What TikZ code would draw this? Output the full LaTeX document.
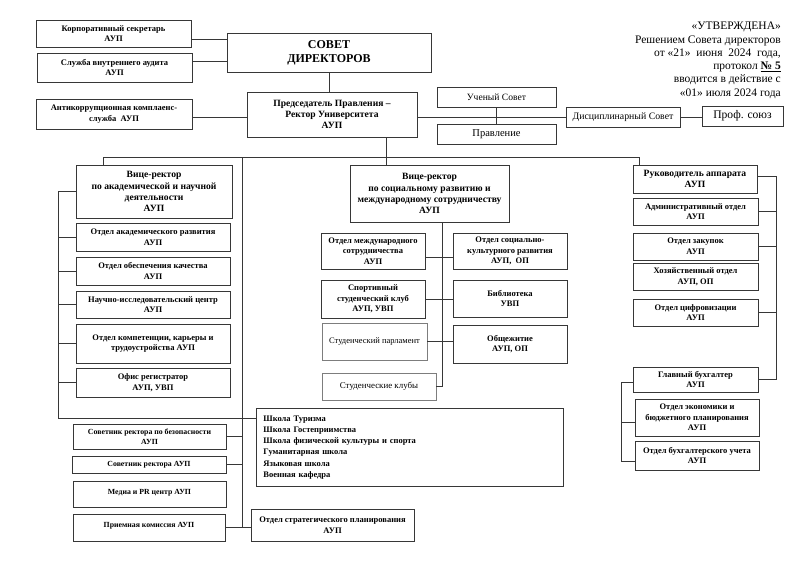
\documentclass[tikz,border=0pt]{standalone}
\usepackage{fontspec}
\setmainfont{Liberation Serif}
\usetikzlibrary{calc}
\definecolor{inkgray}{RGB}{55,55,55}
\definecolor{softgray}{RGB}{125,125,125}

\tikzset{
  box/.style={draw=inkgray, line width=0.9pt, fill=white, align=center, inner sep=0pt,
    font=\fontsize{8.5}{10.6}\selectfont\bfseries},
  headbox/.style={box, font=\fontsize{9.6}{11.2}\selectfont\bfseries},
  smallbox/.style={box, font=\fontsize{7.8}{9.6}\selectfont\bfseries},
  plainbox/.style={box, font=\fontsize{9.5}{11}\selectfont},
  paler/.style={draw=softgray, font=\fontsize{8.5}{10}\selectfont},
  wh/.style 2 args={minimum width=#1pt, minimum height=#2pt},
  link/.style={draw=inkgray, line width=0.8pt},
}

\begin{document}
\begin{tikzpicture}[x=1pt, y=-1pt]
    \useasboundingbox (0,0) rectangle (800,565);

    % top level
    \node[box, wh={155}{27}] (korp) at (113.5,33.5) {Корпоративный секретарь\\АУП};
    \node[box, wh={155}{29}] (sluzh) at (114.5,67.5) {Служба внутреннего аудита\\АУП};
    \node[box, wh={204}{39}, font=\fontsize{12}{14}\selectfont\bfseries] (sovet) at (329,52.5) {СОВЕТ\\ДИРЕКТОРОВ};
    \node[box, wh={156}{30}] (antikor) at (114,114) {Антикоррупционная комплаенс-\\служба\ \ АУП};
    \node[headbox, wh={170}{45}, font=\fontsize{9.6}{10.7}\selectfont\bfseries] (rector) at (332,114.5) {Председатель Правления –\\Ректор Университета\\АУП};
    \node[plainbox, wh={119}{20}, font=\fontsize{9.6}{10}\selectfont] (uchen) at (496.5,97) {Ученый Совет};
    \node[plainbox, wh={119}{20}, font=\fontsize{10.5}{11}\selectfont] (pravl) at (496.5,134) {Правление};
    \node[plainbox, wh={114}{20}, font=\fontsize{9.8}{10}\selectfont] (disc) at (623,117) {Дисциплинарный Совет};
    \node[plainbox, wh={81}{20}, font=\fontsize{11.6}{12}\selectfont] (prof) at (742.5,116) {Проф. союз};

    \node[anchor=north east, align=right, inner sep=0pt, font=\fontsize{11.5}{13.3}\selectfont] (utv) at (781,22)
        {«УТВЕРЖДЕНА»\\Решением Совета директоров\\от «21»\ \ июня\ \ 2024\ \ года,\\протокол \underline{\textbf{№ 5}}\\вводится в действие с\\«01» июля 2024 года};

    % academic branch
    \node[headbox, wh={156}{53}] (vpacad) at (154,191.5) {Вице-ректор\\по академической и научной\\деятельности\\АУП};
    \node[box, wh={154}{28}] (acad1) at (153,237) {Отдел академического развития\\АУП};
    \node[box, wh={154}{28}] (acad2) at (153,271) {Отдел обеспечения качества\\АУП};
    \node[box, wh={154}{27}] (acad3) at (153,304.5) {Научно-исследовательский центр\\АУП};
    \node[box, wh={154}{39}] (acad4) at (153,343.5) {Отдел компетенции, карьеры и\\трудоустройства АУП};
    \node[box, wh={154}{29}] (acad5) at (153,382.5) {Офис регистратор\\АУП, УВП};

    % social branch
    \node[headbox, wh={159}{57}] (vpsoc) at (429.5,193.5) {Вице-ректор\\по социальному развитию и\\международному сотрудничеству\\АУП};
    \node[box, wh={104}{36}] (mezh) at (373,251) {Отдел международного\\сотрудничества\\АУП};
    \node[box, wh={114}{36}] (soccult) at (510,251) {Отдел социально-\\культурного развития\\АУП,\ \ ОП};
    \node[box, wh={104}{38}] (sport) at (373,299) {Спортивный\\студенческий клуб\\АУП, УВП};
    \node[box, wh={114}{37}] (bibl) at (510,298.5) {Библиотека\\УВП};
    \node[plainbox, paler, wh={105}{37}] (parl) at (374.5,341.5) {Студенческий парламент};
    \node[box, wh={114}{38}] (obsh) at (510,344) {Общежитие\\АУП, ОП};
    \node[plainbox, paler, wh={114}{27}, font=\fontsize{8.9}{10}\selectfont] (kluby) at (379,386.5) {Студенческие клубы};

    % apparatus branch
    \node[headbox, wh={124}{28}] (rukov) at (695,179) {Руководитель аппарата\\АУП};
    \node[box, wh={125}{27}] (adm) at (695.5,211.5) {Административный отдел\\АУП};
    \node[box, wh={125}{27}] (zak) at (695.5,246.5) {Отдел закупок\\АУП};
    \node[box, wh={125}{27}] (hoz) at (695.5,276.5) {Хозяйственный отдел\\АУП, ОП};
    \node[box, wh={125}{27}] (cifr) at (695.5,312.5) {Отдел цифровизации\\АУП};
    \node[box, wh={125}{25}] (glav) at (695.5,379.5) {Главный бухгалтер\\АУП};
    \node[box, wh={124}{37}] (econ) at (697,417.5) {Отдел экономики и\\бюджетного планирования\\АУП};
    \node[box, wh={124}{29}] (buh) at (697,455.5) {Отдел бухгалтерского учета\\АУП};

    % lower left
    \node[smallbox, wh={153}{25}] (sovbez) at (149.5,436.5) {Советник ректора по безопасности\\АУП};
    \node[smallbox, wh={154}{17}] (sovrek) at (149,464.5) {Советник ректора АУП};
    \node[smallbox, wh={153}{26}, text depth=5pt] (media) at (149.5,494) {Медиа и PR центр АУП};
    \node[smallbox, wh={152}{27}, text depth=5pt] (priem) at (149,527.5) {Приемная комиссия АУП};
    \node[box, wh={163}{32}] (strat) at (332.5,525) {Отдел стратегического планирования\\АУП};
    \node[box, align=left, anchor=north west, text width=293pt, inner sep=7pt, minimum height=75pt,
        font=\fontsize{8.5}{11.3}\selectfont\bfseries] (schools) at (256,408)
        {Школа Туризма\\Школа Гостеприимства\\Школа физической культуры и спорта\\Гуманитарная школа\\Языковая школа\\Военная кафедра};

    % connectors at the top
    \draw[link] ([yshift=-5.5pt]korp.east) -- ([yshift=-5.5pt]korp.east -| sovet.west);
    \draw[link] ([yshift=6.5pt]sluzh.east) -- ([yshift=6.5pt]sluzh.east -| sovet.west);
    \draw[link] ([yshift=-3pt]antikor.east) -- ([yshift=-3pt]antikor.east -| rector.west);
    \draw[link] (sovet.south) -- (sovet.south |- rector.north);
    \draw[link] (disc.west -| rector.east) -- (disc.west);
    \draw[link] (uchen.south) -- (pravl.north);
    \draw[link] (disc.east) -- (disc.east -| prof.west);

    % bus to the vice-rectors
    \draw[link] ([xshift=28pt]vpacad.north west) -- ++(0,-7) -| ([xshift=7pt]rukov.north west);
    \draw[link] ([xshift=54pt]rector.south) -- ([xshift=54pt]rector.south |- vpsoc.north);

    % long rail on the left
    \coordinate (lrail) at (242,158);
    \draw[link] (lrail) -- (lrail |- priem.east);
    \draw[link] (sovbez.east) -- (sovbez.east -| lrail);
    \draw[link] (sovrek.east) -- (sovrek.east -| lrail);
    \draw[link] (priem.east) -- (priem.east -| strat.west);

    % academic bracket
    \coordinate (arail) at ([xshift=-17pt]vpacad.west);
    \coordinate (schin) at ([yshift=-10pt]schools.north west);
    \draw[link] (vpacad.west) -- (arail) -- (arail |- schin) -- (schin);
    \foreach \n in {acad1,acad2,acad3,acad4,acad5}
        \draw[link] (\n.west) -- (\n.west -| arail);

    % social bracket
    \coordinate (srail) at ([xshift=12.5pt]vpsoc.south);
    \draw[link] (srail) -- (srail |- kluby.east) -- (kluby.east);
    \draw[link] ([yshift=-6pt]mezh.east) -- ([yshift=-6pt]mezh.east -| soccult.west);
    \draw[link] (sport.east) -- (sport.east -| bibl.west);
    \draw[link] (parl.east) -- (parl.east -| obsh.west);

    % apparatus bracket
    \coordinate (rrail) at ([xshift=19pt,yshift=3pt]rukov.east);
    \draw[link] ([yshift=3pt]rukov.east) -- (rrail) -- (rrail |- glav.east) -- (glav.east);
    \foreach \n in {adm,zak,cifr}
        \draw[link] (\n.east) -- (\n.east -| rrail);

    % accounting bracket
    \coordinate (brail) at ([xshift=-11pt,yshift=-2.5pt]glav.west);
    \draw[link] ([yshift=-2.5pt]glav.west) -- (brail) |- ([yshift=-5.5pt]buh.west);
    \draw[link] ([yshift=-4.5pt]econ.west) -- ([yshift=-4.5pt]econ.west -| brail);
\end{tikzpicture}
\end{document}
